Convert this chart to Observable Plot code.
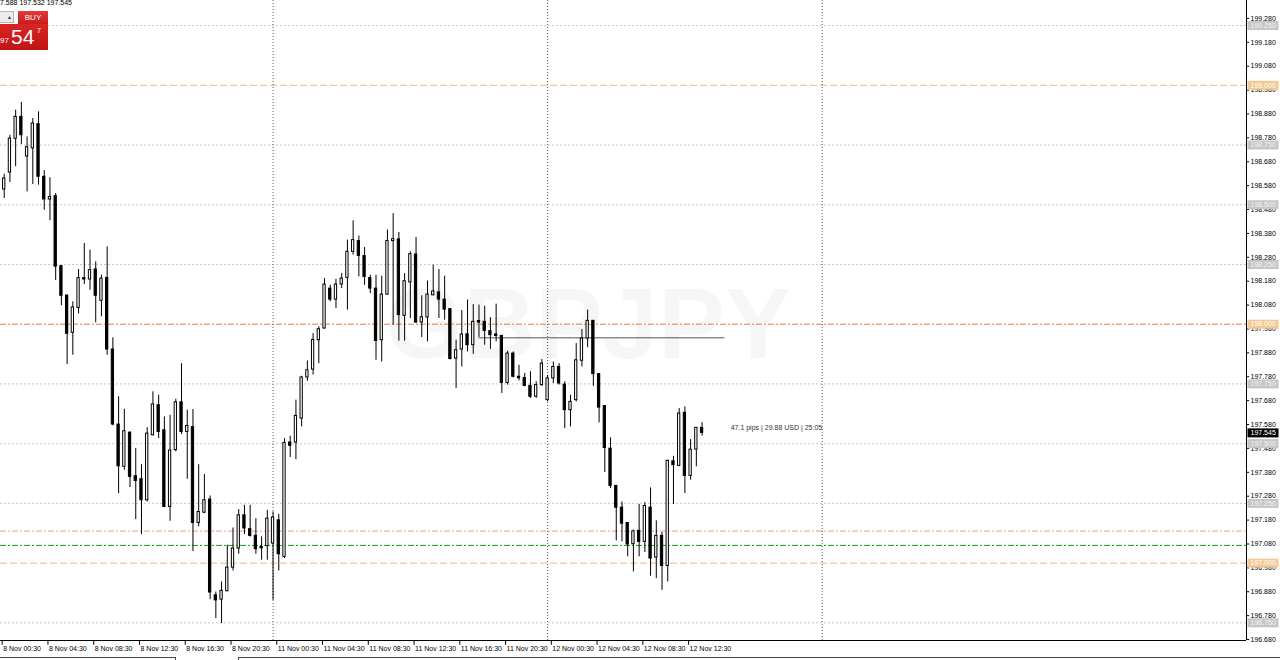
<!DOCTYPE html>
<html><head><meta charset="utf-8">
<script src="https://cdn.jsdelivr.net/npm/d3@7"></script>
<script src="https://cdn.jsdelivr.net/npm/@observablehq/plot@0.6"></script>
<style>
html,body{margin:0;padding:0;background:#fff;}
body{width:1280px;height:660px;overflow:hidden;position:relative;font-family:"Liberation Sans",Arial,sans-serif;}
#chart{position:absolute;left:0;top:0;}
#hdr{position:absolute;top:-1px;left:0;white-space:nowrap;font-size:7px;color:#000;}
#lot{position:absolute;left:-22px;top:11px;width:36px;height:12px;background:#ececec;border:1px solid #b4b4b4;box-sizing:border-box;}
#lot span{position:absolute;right:1px;top:2px;font-size:5px;color:#333;}
#buy{position:absolute;left:18px;top:11px;width:30px;height:13px;background:linear-gradient(#e23a3a,#c81c1c);color:#fff;font-size:8px;text-align:center;line-height:13px;}
#price{position:absolute;left:0;top:24px;width:48px;height:26px;background:linear-gradient(#d92424,#c01414);color:#fff;}
#price .s{position:absolute;left:0;top:12px;font-size:8px;}
#price .b{position:absolute;left:11px;top:0px;font-size:21px;line-height:26px;}
#price .p{position:absolute;left:37px;top:3px;font-size:7px;}
#tab1{position:absolute;left:0;top:657px;width:176px;height:4px;border-top:1px solid #444;border-right:1px solid #444;box-sizing:border-box;}
#tab2{position:absolute;left:238px;top:657px;width:1042px;height:4px;border-top:1px solid #444;border-left:1px solid #444;box-sizing:border-box;}
</style></head><body>
<div id="chart"></div>
<div id="hdr">7.588 197.532 197.545</div>
<div id="lot"><span>▲</span></div>
<div id="buy">BUY</div>
<div id="price"><span class="s">97</span><span class="b">54</span><span class="p">7</span></div>
<div id="tab1"></div><div id="tab2"></div>
<script>
// ---- data (GBPJPY M30 candles, index 0 = 8 Nov 00:30) ----
const opens = [198.564,198.635,198.776,198.868,198.702,198.736,198.837,198.617,198.522,198.536,
198.243,198.120,197.964,198.068,198.193,198.187,198.229,198.098,198.194,197.894,
197.580,197.403,197.546,197.364,197.351,197.263,197.535,197.661,197.556,197.235,
197.473,197.673,197.549,197.569,197.168,197.211,197.266,196.865,196.847,196.882,
196.981,197.061,197.200,197.142,197.114,197.068,197.071,197.082,197.179,197.026,
197.505,197.505,197.605,197.777,197.810,197.933,197.982,198.149,198.103,198.166,
198.194,198.303,198.348,198.285,198.193,198.149,197.933,198.124,198.348,198.355,
198.035,198.175,198.292,198.007,198.028,198.121,198.133,198.103,198.063,197.856,
197.894,197.958,197.912,198.013,198.010,197.971,197.957,197.951,197.754,197.877,
197.780,197.775,197.742,197.697,197.745,197.682,197.773,197.821,197.747,197.640,
197.682,197.847,197.940,198.014,197.791,197.657,197.479,197.323,197.232,197.168,
197.079,197.135,197.089,197.232,197.023,197.114,196.988,197.426,197.407,197.629,
197.365,197.475,197.566];
const highs = [198.628,198.791,198.896,198.928,198.784,198.861,198.889,198.643,198.613,198.547,
198.245,198.122,198.094,198.229,198.338,198.310,198.261,198.205,198.324,197.943,
197.696,197.644,197.549,197.480,197.412,197.567,197.717,197.703,197.612,197.619,
197.686,197.835,197.640,197.643,197.412,197.371,197.281,196.879,196.921,197.075,
197.147,197.224,197.242,197.242,197.186,197.110,197.221,197.214,197.204,197.521,
197.531,197.682,197.782,197.846,197.961,197.989,198.191,198.163,198.188,198.212,
198.352,198.433,198.369,198.321,198.205,198.205,198.201,198.394,198.463,198.384,
198.212,198.303,198.363,198.119,198.181,198.247,198.229,198.201,198.066,197.933,
198.057,198.101,198.082,198.080,198.075,198.027,198.084,197.953,197.887,197.884,
197.828,197.794,197.801,197.759,197.852,197.786,197.842,197.835,197.759,197.703,
197.919,197.978,198.059,198.016,197.793,197.659,197.524,197.325,197.256,197.170,
197.138,197.246,197.253,197.315,197.177,197.128,197.431,197.447,197.647,197.654,
197.517,197.568,197.588];
const lows = [198.526,198.593,198.659,198.752,198.554,198.585,198.582,198.477,198.433,198.183,
198.077,197.831,197.870,198.043,198.166,198.142,198.006,198.031,197.870,197.575,
197.291,197.389,197.316,197.182,197.119,197.256,197.533,197.521,197.232,197.175,
197.466,197.538,197.351,197.048,197.152,197.207,196.847,196.768,196.747,196.880,
196.967,197.037,197.119,197.109,197.037,197.012,197.012,196.844,196.967,197.019,
197.442,197.433,197.570,197.761,197.787,197.835,197.979,198.094,198.066,198.149,
198.059,198.289,198.198,198.163,198.128,197.849,197.842,198.121,197.996,197.929,
197.929,198.024,198.003,197.944,197.926,198.119,198.024,198.017,197.851,197.731,
197.821,197.884,197.874,197.945,197.912,197.895,197.926,197.710,197.745,197.775,
197.763,197.738,197.689,197.689,197.740,197.675,197.752,197.745,197.563,197.570,
197.675,197.821,197.902,197.740,197.587,197.379,197.312,197.093,197.089,197.026,
196.963,197.026,197.044,196.945,196.935,196.886,196.921,197.246,197.403,197.291,
197.347,197.403,197.532];
const closes = [198.610,198.777,198.868,198.791,198.741,198.840,198.617,198.522,198.533,198.241,
198.119,197.960,198.070,198.193,198.187,198.226,198.119,198.191,197.894,197.580,
197.405,197.552,197.361,197.344,197.263,197.542,197.664,197.549,197.235,197.471,
197.673,197.549,197.574,197.168,197.214,197.263,196.877,196.844,196.884,196.981,
197.061,197.200,197.145,197.114,197.058,197.062,197.186,197.191,197.037,197.503,
197.491,197.616,197.777,197.807,197.934,197.979,198.166,198.103,198.166,198.191,
198.303,198.352,198.286,198.198,198.149,197.930,198.124,198.348,198.356,198.038,
198.180,198.293,198.007,198.029,198.124,198.137,198.103,198.061,197.854,197.891,
197.957,197.912,198.010,198.007,197.972,197.954,197.951,197.754,197.877,197.780,
197.774,197.742,197.696,197.745,197.835,197.773,197.821,197.752,197.640,197.675,
197.849,197.940,198.014,197.791,197.651,197.482,197.323,197.232,197.165,197.078,
197.133,197.089,197.239,197.019,197.114,196.988,197.428,197.410,197.626,197.365,
197.475,197.566,197.545];

const xTickIdx = [0,8,16,24,32,40,48,56,64,72,80,88,96,104,112,120];
const xLabels = ["8 Nov 00:30","8 Nov 04:30","8 Nov 08:30","8 Nov 12:30","8 Nov 16:30","8 Nov 20:30",
"11 Nov 00:30","11 Nov 04:30","11 Nov 08:30","11 Nov 12:30","11 Nov 16:30","11 Nov 20:30",
"12 Nov 00:30","12 Nov 04:30","12 Nov 08:30","12 Nov 12:30"];
const yTicks = [199.28,199.18,199.08,198.98,198.88,198.78,198.68,198.58,198.48,198.38,198.28,198.18,198.08,
197.98,197.88,197.78,197.68,197.58,197.48,197.38,197.28,197.18,197.08,196.98,196.88,196.78,196.68];
const grayLevels = [199.25,198.75,198.5,198.25,197.75,197.5,197.25,196.75];
const tanLevels = [199.0,197.0];
const orangeLevels = [198.0];
const tanLabelLevels = [199.0,198.0,197.0];
const redLevels = [197.134];
const greenLevels = [197.074];
const daySeparators = [47,95,143];
const trendLevel = 197.943, trendStart = 83, trendEnd = 126;
const lastPrice = 197.545;
const infoText = "47.1 pips | 29.88 USD | 25:05";
const infoIdx = 127;

// ---- chart ----
const xMin = -0.647, xMax = 217.18;
const yMin = 196.676, yMax = 199.355;
const candles = opens.map((o,i)=>({i, o, h: highs[i], l: lows[i], c: closes[i]}));
const hw = 0.2;
const boxSym = {draw(ctx){ ctx.moveTo(1,-4.5); ctx.lineTo(32,-4.5); ctx.lineTo(32,4.5); ctx.lineTo(1,4.5); ctx.closePath(); }};
const fmt = d => d.toFixed(3);

const chart = Plot.plot({
  width:1280, height:660, marginTop:0, marginLeft:0, marginRight:34, marginBottom:20,
  x:{domain:[xMin,xMax], axis:null},
  y:{domain:[yMin,yMax], axis:null},
  style:{fontFamily:"'Liberation Sans', Arial, sans-serif", fontSize:"7px", background:"#fff", color:"#000", overflow:"visible"},
  marks:[
    Plot.text(["GBPJPY"], {frameAnchor:"middle", text:d=>d, dx:-35, dy:5, fontSize:100, fontWeight:"bold", fill:"#f6f6f6"}),
    Plot.ruleY(grayLevels, {stroke:"#c6c6c6", strokeDasharray:"2,2"}),
    Plot.ruleY(tanLevels, {stroke:"#e4bb85", strokeDasharray:"7,3"}),
    Plot.ruleY(orangeLevels, {stroke:"#ee7c3a", strokeDasharray:"6,2,2,2"}),
    Plot.ruleY(redLevels, {stroke:"#f29a88", strokeDasharray:"6,2,2,2"}),
    Plot.ruleY(greenLevels, {stroke:"#12a012", strokeDasharray:"6,2,2,2"}),
    Plot.ruleX(daySeparators, {stroke:"#555", strokeDasharray:"1,2"}),
    Plot.ruleY([trendLevel], {x1:trendStart, x2:trendEnd, stroke:"#555"}),
    Plot.ruleX(candles, {x:"i", y1:"l", y2:"h", stroke:"#000"}),
    Plot.rect(candles, {x1:d=>d.i-hw, x2:d=>d.i+hw, y1:"o", y2:"c", fill:d=>d.c>=d.o?"#fff":"#000", stroke:"#000"}),
    Plot.text([infoText], {x:()=>infoIdx, y:()=>lastPrice, dy:-5, text:d=>d, textAnchor:"start", fill:"#333", fontSize:7}),
    // axes frame
    Plot.ruleX([xMax], {stroke:"#000"}),
    Plot.ruleY([yMin], {stroke:"#000"}),
    Plot.ruleY(yTicks, {x1:()=>xMax, x2:()=>xMax+0.55, stroke:"#000"}),
    Plot.text(yTicks, {x:()=>xMax, y:d=>d, dx:4, textAnchor:"start", text:fmt, fill:"#000"}),
    Plot.ruleX(xTickIdx, {x:d=>d-0.35, y1:()=>yMin, y2:()=>yMin-0.02, stroke:"#000"}),
    Plot.text(xTickIdx, {x:d=>d, y:()=>yMin, dy:8, dx:-1, textAnchor:"start", text:(d,i)=>xLabels[i], fill:"#000"}),
    // level labels on the price scale
    Plot.dot(grayLevels, {x:()=>xMax, y:d=>d, symbol:boxSym, fill:"#c6c6c6", stroke:"none", r:5}),
    Plot.text(grayLevels, {x:()=>xMax, y:d=>d, dx:4, textAnchor:"start", text:fmt, fill:"#f4f4f4"}),
    Plot.dot(tanLabelLevels, {x:()=>xMax, y:d=>d, symbol:boxSym, fill:"#f2c993", stroke:"none", r:5}),
    Plot.text(tanLabelLevels, {x:()=>xMax, y:d=>d, dx:4, textAnchor:"start", text:fmt, fill:"#fff"}),
    Plot.dot([lastPrice], {x:()=>xMax, y:d=>d, symbol:boxSym, fill:"#000", stroke:"none", r:5}),
    Plot.text([lastPrice], {x:()=>xMax, y:d=>d, dx:4, textAnchor:"start", text:fmt, fill:"#fff"})
  ]
});
document.getElementById("chart").appendChild(chart);
</script>
</body></html>
